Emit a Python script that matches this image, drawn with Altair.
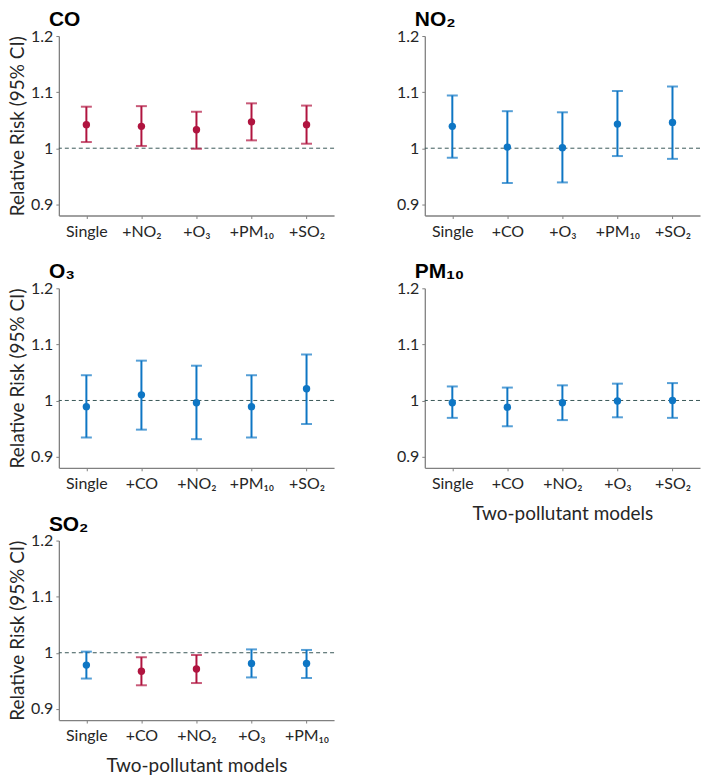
import altair as alt
import pandas as pd

RED = "#B0143F"
BLUE = "#0E76C4"

# ---- data ----
co_models = ["Single", "+NO₂", "+O₃", "+PM₁₀", "+SO₂"]
co_rr = [1.042, 1.039, 1.033, 1.047, 1.042]
co_lo = [1.011, 1.004, 0.999, 1.014, 1.008]
co_hi = [1.074, 1.075, 1.065, 1.080, 1.076]
co_sig = ["yes", "yes", "yes", "yes", "yes"]

no2_models = ["Single", "+CO", "+O₃", "+PM₁₀", "+SO₂"]
no2_rr = [1.039, 1.002, 1.001, 1.043, 1.046]
no2_lo = [0.983, 0.938, 0.939, 0.986, 0.981]
no2_hi = [1.094, 1.066, 1.064, 1.102, 1.110]
no2_sig = ["no", "no", "no", "no", "no"]

o3_models = ["Single", "+CO", "+NO₂", "+PM₁₀", "+SO₂"]
o3_rr = [0.989, 1.010, 0.996, 0.989, 1.021]
o3_lo = [0.934, 0.948, 0.931, 0.934, 0.958]
o3_hi = [1.045, 1.071, 1.062, 1.045, 1.082]
o3_sig = ["no", "no", "no", "no", "no"]

pm10_models = ["Single", "+CO", "+NO₂", "+O₃", "+SO₂"]
pm10_rr = [0.996, 0.988, 0.996, 0.999, 1.000]
pm10_lo = [0.969, 0.954, 0.965, 0.970, 0.969]
pm10_hi = [1.025, 1.023, 1.027, 1.030, 1.031]
pm10_sig = ["no", "no", "no", "no", "no"]

so2_models = ["Single", "+CO", "+NO₂", "+O₃", "+PM₁₀"]
so2_rr = [0.978, 0.967, 0.971, 0.981, 0.981]
so2_lo = [0.954, 0.942, 0.946, 0.956, 0.955]
so2_hi = [1.002, 0.992, 0.996, 1.006, 1.005]
so2_sig = ["no", "yes", "yes", "no", "no"]

y_ticks = [0.9, 1.0, 1.1, 1.2]
y_domain = [0.88, 1.2]
reference_value = [1.0]

W, H = 276, 180


def panel(title, models, rr, lo, hi, sig, ytitle, xtitle):
    df = pd.DataFrame({"model": models, "rr": rr, "lo": lo, "hi": hi, "sig": sig})
    x = alt.X(
        "model:N",
        sort=models,
        scale=alt.Scale(type="point", padding=0.5),
        axis=alt.Axis(
            title="Two-pollutant models" if xtitle else None,
            labelAngle=0,
            labelPadding=5,
            titlePadding=13,
        ),
    )
    yscale = alt.Scale(domain=y_domain, nice=False, zero=False)
    yaxis = alt.Axis(
        values=y_ticks,
        labelExpr="datum.value == 1 ? '1' : format(datum.value, '.1f')",
        title="Relative Risk (95% CI)" if ytitle else None,
        titlePadding=3,
        labelPadding=3,
    )
    color = alt.Color(
        "sig:N", scale=alt.Scale(domain=["yes", "no"], range=[RED, BLUE]), legend=None
    )
    base = alt.Chart(df).encode(x=x, color=color)
    ref = (
        alt.Chart(pd.DataFrame({"ref": reference_value}))
        .mark_rule(strokeDash=[4, 3], color="#3A5858", strokeWidth=1)
        .encode(y=alt.Y("ref:Q", scale=yscale, axis=yaxis))
    )
    bars = base.mark_rule(strokeWidth=2).encode(
        y=alt.Y("lo:Q", scale=yscale, axis=yaxis), y2="hi:Q"
    )
    cap_lo = base.mark_tick(thickness=2, size=11).encode(
        y=alt.Y("lo:Q", scale=yscale, axis=yaxis)
    )
    cap_hi = base.mark_tick(thickness=2, size=11).encode(
        y=alt.Y("hi:Q", scale=yscale, axis=yaxis)
    )
    pts = base.mark_circle(size=55, opacity=1).encode(
        y=alt.Y("rr:Q", scale=yscale, axis=yaxis)
    )
    return alt.layer(ref, bars, cap_lo, cap_hi, pts).properties(
        width=W,
        height=H,
        title=alt.TitleParams(
            text=title,
            anchor="start",
            frame="group",
            font="Liberation Sans",
            fontSize=21,
            fontWeight="bold",
            color="black",
            dx=-10,
            offset=-2,
        ),
    )


p_co = panel("CO", co_models, co_rr, co_lo, co_hi, co_sig, True, False)
p_no2 = panel("NO₂", no2_models, no2_rr, no2_lo, no2_hi, no2_sig, False, False)
p_o3 = panel("O₃", o3_models, o3_rr, o3_lo, o3_hi, o3_sig, True, False)
p_pm10 = panel("PM₁₀", pm10_models, pm10_rr, pm10_lo, pm10_hi, pm10_sig, False, True)
p_so2 = panel("SO₂", so2_models, so2_rr, so2_lo, so2_hi, so2_sig, True, True)

chart = (
    alt.concat(
        p_co, p_no2, p_o3, p_pm10, p_so2,
        columns=2,
        spacing={"row": 73, "column": 91},
        bounds="flush",
    )
    .properties(padding={"left": 0, "top": 0, "right": 0, "bottom": 0})
    .configure_view(stroke=None)
    .configure_axis(
        grid=False,
        domainColor="#808080",
        domainWidth=1.3,
        tickColor="#808080",
        tickSize=3,
        labelFont="Lato",
        labelFontSize=16,
        labelColor="#262626",
        titleFont="Lato",
        titleFontSize=19,
        titleFontWeight="normal",
        titleColor="#262626",
    )
)

chart.save("out.html", embed_options={"renderer": "svg", "actions": False})
